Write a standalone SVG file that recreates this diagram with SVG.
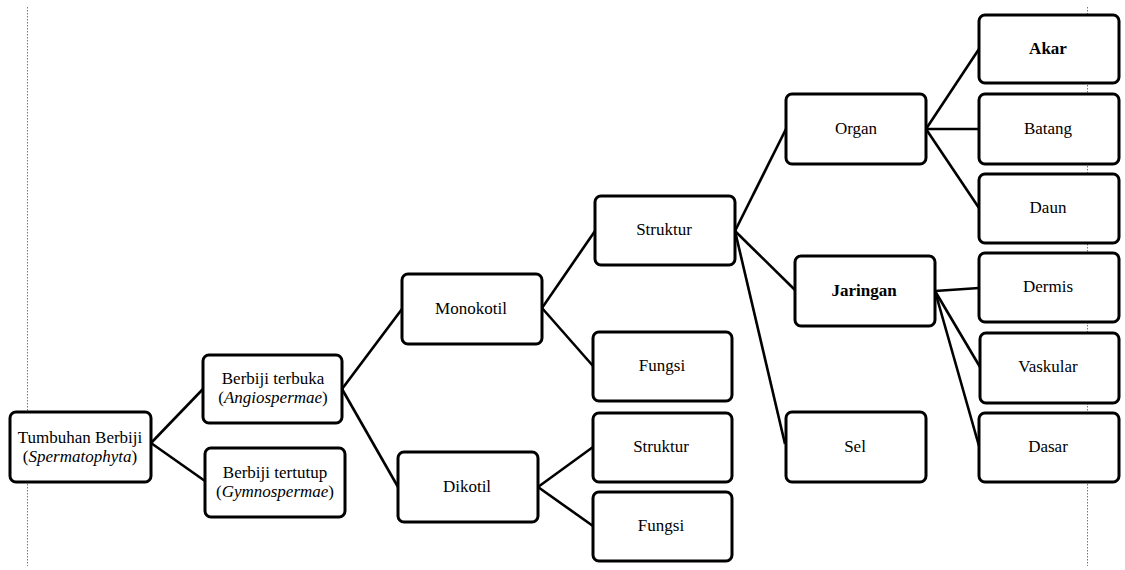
<svg xmlns="http://www.w3.org/2000/svg" width="1125" height="570" viewBox="0 0 1125 570">
<style>
.box{fill:#fff;stroke:#000;stroke-width:3}
.t{font-family:"Liberation Serif","Times New Roman",serif;font-size:17px;fill:#000;text-anchor:middle}
.b{font-weight:bold}
.c{stroke:#000;stroke-width:2.6;fill:none}
.g{stroke:#777;stroke-width:1;stroke-dasharray:1.5,1.5}
</style>
<rect width="1125" height="570" fill="#fff"/>
<line class="g" x1="27.5" y1="7" x2="27.5" y2="566"/>
<line class="g" x1="1087.5" y1="7" x2="1087.5" y2="566"/>
<g id="connectors">
<line class="c" x1="151" y1="443" x2="203" y2="389"/>
<line class="c" x1="151" y1="443" x2="205" y2="481"/>
<line class="c" x1="342" y1="389" x2="402" y2="309"/>
<line class="c" x1="342" y1="389" x2="398" y2="487"/>
<line class="c" x1="542" y1="308" x2="595" y2="231"/>
<line class="c" x1="542" y1="308" x2="593" y2="366"/>
<line class="c" x1="538" y1="487" x2="593" y2="447"/>
<line class="c" x1="538" y1="487" x2="593" y2="526"/>
<line class="c" x1="735" y1="231" x2="786" y2="129"/>
<line class="c" x1="735" y1="231" x2="795" y2="290"/>
<line class="c" x1="735" y1="231" x2="785" y2="444"/>
<line class="c" x1="926" y1="129" x2="979" y2="49"/>
<line class="c" x1="926" y1="129" x2="979" y2="129"/>
<line class="c" x1="926" y1="129" x2="979" y2="208"/>
<line class="c" x1="935" y1="291" x2="979" y2="288"/>
<line class="c" x1="935" y1="291" x2="980" y2="367"/>
<line class="c" x1="935" y1="291" x2="979" y2="446"/>
</g>
<g id="n-tumbuhan"><rect class="box" x="10" y="412" width="141" height="70" rx="6"/><text class="t" x="80" y="443">Tumbuhan Berbiji</text><text class="t" x="80" y="462">(<tspan font-style="italic">Spermatophyta</tspan>)</text></g>
<g id="n-terbuka"><rect class="box" x="203" y="355" width="139" height="68" rx="6"/><text class="t" x="273" y="384">Berbiji terbuka</text><text class="t" x="273" y="403">(<tspan font-style="italic">Angiospermae</tspan>)</text></g>
<g id="n-tertutup"><rect class="box" x="205" y="448" width="140" height="69" rx="6"/><text class="t" x="275" y="478">Berbiji tertutup</text><text class="t" x="275" y="497">(<tspan font-style="italic">Gymnospermae</tspan>)</text></g>
<g id="n-monokotil"><rect class="box" x="402" y="274" width="140" height="70" rx="6"/><text class="t" x="471" y="314">Monokotil</text></g>
<g id="n-dikotil"><rect class="box" x="398" y="452" width="140" height="70" rx="6"/><text class="t" x="467" y="492">Dikotil</text></g>
<g id="n-struktur1"><rect class="box" x="595" y="196" width="140" height="69" rx="6"/><text class="t" x="664" y="235">Struktur</text></g>
<g id="n-fungsi1"><rect class="box" x="593" y="332" width="139" height="69" rx="6"/><text class="t" x="662" y="371">Fungsi</text></g>
<g id="n-struktur2"><rect class="box" x="593" y="413" width="139" height="69" rx="6"/><text class="t" x="661" y="452">Struktur</text></g>
<g id="n-fungsi2"><rect class="box" x="593" y="492" width="139" height="69" rx="6"/><text class="t" x="661" y="531">Fungsi</text></g>
<g id="n-organ"><rect class="box" x="786" y="94" width="140" height="70" rx="6"/><text class="t" x="856" y="134">Organ</text></g>
<g id="n-jaringan"><rect class="box" x="795" y="256" width="140" height="70" rx="6"/><text class="t b" x="864" y="296">Jaringan</text></g>
<g id="n-sel"><rect class="box" x="786" y="412" width="140" height="70" rx="6"/><text class="t" x="855" y="452">Sel</text></g>
<g id="n-akar"><rect class="box" x="979" y="15" width="140" height="68" rx="6"/><text class="t b" x="1048" y="54">Akar</text></g>
<g id="n-batang"><rect class="box" x="979" y="94" width="140" height="70" rx="6"/><text class="t" x="1048" y="134">Batang</text></g>
<g id="n-daun"><rect class="box" x="979" y="174" width="140" height="69" rx="6"/><text class="t" x="1048" y="213">Daun</text></g>
<g id="n-dermis"><rect class="box" x="979" y="253" width="140" height="69" rx="6"/><text class="t" x="1048" y="292">Dermis</text></g>
<g id="n-vaskular"><rect class="box" x="980" y="333" width="139" height="70" rx="6"/><text class="t" x="1048" y="372">Vaskular</text></g>
<g id="n-dasar"><rect class="box" x="979" y="413" width="140" height="69" rx="6"/><text class="t" x="1048" y="452">Dasar</text></g>
</svg>
